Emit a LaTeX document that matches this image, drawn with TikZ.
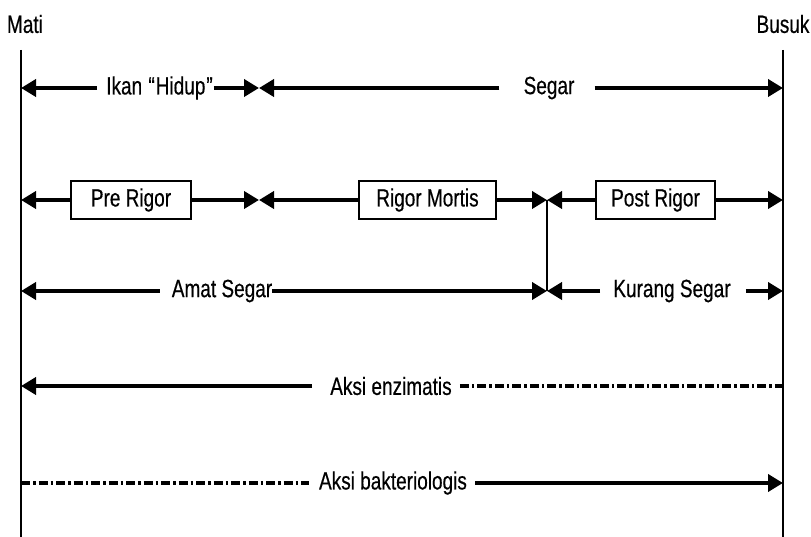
\documentclass[tikz,border=0pt]{standalone}
\usepackage{fontspec}
\setmainfont[FakeStretch=0.76,FakeBold=0.4]{Liberation Sans}
\usetikzlibrary{arrows.meta}
\begin{document}
\begin{tikzpicture}[x=1pt,y=-1pt,
  lbl/.style={inner sep=0pt,font=\fontsize{25}{30}\selectfont},
  boxn/.style={draw,line width=2pt,minimum height=38pt,inner sep=0pt,font=\fontsize{25}{30}\selectfont},
  axis/.style={line width=2.6pt},
  seg/.style={line width=4.5pt},
  arr/.style={seg,-{Triangle[length=15pt,width=17pt]}},
  dd/.style={line width=4.5pt,dash pattern=on 9pt off 3pt on 2.5pt off 3pt}]
\useasboundingbox (0,0) rectangle (811,537);
% axes
\node[lbl] (mati) at (25,24) {Mati};
\node[lbl] (busuk) at (783,24) {Busuk};
\coordinate (TL) at (21,50); \coordinate (BL) at (21,537);
\coordinate (TR) at (783,50); \coordinate (BR) at (783,537);
\draw[axis] (TL) -- (BL);
\draw[axis] (TR) -- (BR);
% row 1
\coordinate (L1) at (21,88); \coordinate (M1) at (259,88); \coordinate (R1) at (783,88);
\node[lbl] (ikan) at (160,88) {Ikan \kern1pt“\kern1pt Hidup\kern1pt”\kern1pt};
\node[lbl] (segar) at (549,88) {Segar};
\draw[arr,shorten <=9pt] (ikan.west) -- (L1);
\draw[arr] (ikan.east) -- (M1);
\draw[arr,shorten <=24pt] (segar.west) -- (M1);
\draw[arr,shorten <=20pt] (segar.east) -- (R1);
% row 2
\coordinate (L2) at (21,200); \coordinate (M2) at (259,200);
\coordinate (J2) at (547,200); \coordinate (R2) at (783,200);
\node[boxn,minimum width=120pt] (pre) at (131,200) {Pre Rigor};
\node[boxn,minimum width=137pt] (rigor) at (427.5,200) {Rigor Mortis};
\node[boxn,minimum width=119pt] (post) at (655.5,200) {Post Rigor};
\draw[arr] (pre.west) -- (L2);
\draw[arr] (pre.east) -- (M2);
\draw[arr] (rigor.west) -- (M2);
\draw[arr] (rigor.east) -- (J2);
\draw[arr] (post.west) -- (J2);
\draw[arr] (post.east) -- (R2);
% junction
\coordinate (J3) at (547,291);
\draw[axis] (J2) -- (J3);
% row 3
\coordinate (L3) at (21,291); \coordinate (R3) at (783,291);
\node[lbl] (amat) at (222,291) {Amat Segar};
\node[lbl] (kurang) at (672,291) {Kurang Segar};
\draw[arr,shorten <=12pt] (amat.west) -- (L3);
\draw[arr] (amat.east) -- (J3);
\draw[arr,shorten <=13pt] (kurang.west) -- (J3);
\draw[arr,shorten <=15pt] (kurang.east) -- (R3);
% row 4
\coordinate (L4) at (21,386); \coordinate (R4) at (783,386);
\node[lbl] (enz) at (391,386) {Aksi enzimatis};
\draw[arr,shorten <=18pt] (enz.west) -- (L4);
\draw[dd,shorten <=8pt] (enz.east) -- (R4);
% row 5
\coordinate (L5) at (21,483); \coordinate (R5) at (783,483);
\node[lbl] (bakt) at (393,483) {Aksi bakteriologis};
\draw[dd] (L5) -- ([xshift=-10pt]bakt.west);
\draw[arr,shorten <=8pt] (bakt.east) -- (R5);
\end{tikzpicture}
\end{document}
